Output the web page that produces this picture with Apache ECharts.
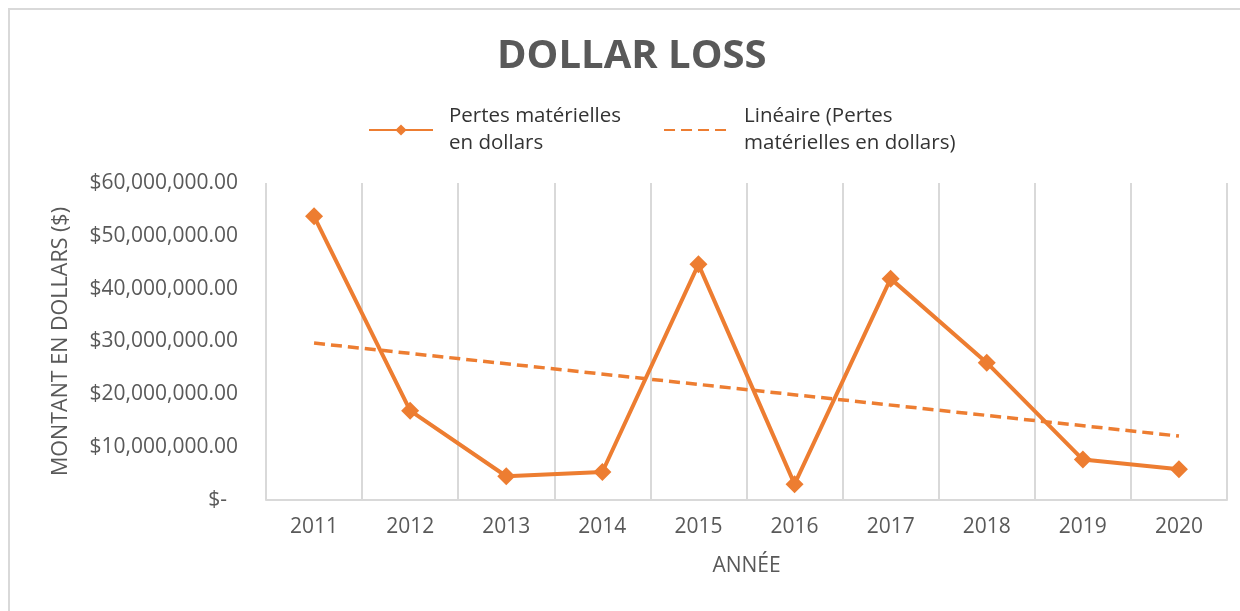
<!DOCTYPE html>
<html>
<head>
<meta charset="utf-8">
<title>Dollar Loss</title>
<script src="https://cdn.jsdelivr.net/npm/echarts@6/dist/echarts.min.js"></script>
<style>
  html, body { margin: 0; padding: 0; background: #fff; }
  #frame { position: absolute; left: 8px; top: 8px; width: 1300px; height: 700px; border: 2px solid #d9d9d9; }
  #chart { position: absolute; left: 0; top: 0; width: 1240px; height: 611px; }
</style>
</head>
<body>
<div id="frame"></div>
<div id="chart"></div>
<script>
// années
const years = ['2011', '2012', '2013', '2014', '2015', '2016', '2017', '2018', '2019', '2020']
// pertes matérielles en dollars
const losses = [53700000, 16900000, 4500000, 5300000, 44600000, 3000000, 41900000, 26000000, 7650000, 5800000]
// tendance linéaire : seulement les deux extrémités
const trend = [29700000, null, null, null, null, null, null, null, null, 12100000]
const seriesNames = ['Pertes matérielles en dollars', 'Linéaire (Pertes matérielles en dollars)']
const legendLabels = ['Pertes matérielles\nen dollars', 'Linéaire (Pertes\nmatérielles en dollars)']

const orange = '#ed7d31'
const grey = '#595959'
const font = 'Open Sans'

function money(v) {
  if (v === 0) return '{z|$-}'
  return '$' + v.toLocaleString('en-US', { minimumFractionDigits: 2, maximumFractionDigits: 2 })
}

const chart = echarts.init(document.getElementById('chart'), null, { renderer: 'canvas' })
chart.setOption({
  animation: false,
  title: {
    text: 'DOLLAR LOSS',
    left: 492,
    top: 32,
    textStyle: { fontFamily: font, fontSize: 40, fontWeight: 'bold', color: grey }
  },
  legend: {
    left: 363,
    top: 98,
    itemWidth: 64,
    itemHeight: 14,
    itemGap: 42,
    data: [
      { name: seriesNames[0] },
      { name: seriesNames[1], itemStyle: { opacity: 0 } }
    ],
    formatter: (name) => legendLabels[seriesNames.indexOf(name)],
    textStyle: { fontFamily: font, fontSize: 20.5, color: '#333', lineHeight: 27, padding: [0, 0, 0, 11] }
  },
  grid: { left: 266, right: 13, top: 183, bottom: 111, containLabel: false },
  xAxis: {
    type: 'category',
    data: years,
    boundaryGap: true,
    name: 'ANNÉE',
    nameLocation: 'middle',
    nameGap: 56,
    nameTextStyle: { fontFamily: font, fontSize: 21, color: grey },
    axisLine: { lineStyle: { color: '#d9d9d9', width: 2 } },
    axisTick: { show: false },
    axisLabel: { fontFamily: font, fontSize: 21, color: grey, margin: 17, interval: 0 },
    splitLine: { show: true, interval: 0, lineStyle: { color: '#d9d9d9', width: 2 } }
  },
  yAxis: {
    type: 'value',
    min: 0,
    max: 60000000,
    interval: 10000000,
    name: 'MONTANT EN DOLLARS ($)',
    nameLocation: 'middle',
    nameGap: 194,
    nameTextStyle: { fontFamily: font, fontSize: 21.5, color: grey },
    axisLine: { show: false },
    axisTick: { show: false },
    splitLine: { show: false },
    axisLabel: {
      fontFamily: font, fontSize: 21, color: grey, margin: 28,
      formatter: money,
      rich: { z: { fontFamily: font, fontSize: 21, color: grey, padding: [0, 11, 0, 0] } }
    }
  },
  series: [
    {
      name: seriesNames[0],
      type: 'line',
      data: losses,
      symbol: 'diamond',
      symbolSize: 18,
      itemStyle: { color: orange },
      lineStyle: { color: orange, width: 4 },
      z: 3
    },
    {
      name: seriesNames[1],
      type: 'line',
      data: trend,
      connectNulls: true,
      symbol: 'none',
      itemStyle: { color: orange },
      lineStyle: { color: orange, width: 3.5, type: [11, 6] },
      z: 2
    }
  ]
})
</script>
</body>
</html>
